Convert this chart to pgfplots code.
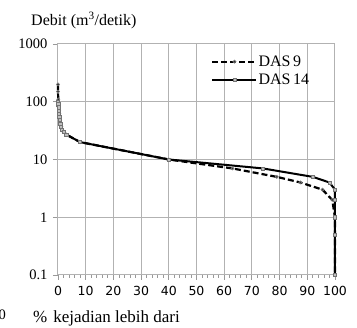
\documentclass[border=0pt]{standalone}
\usepackage{fontspec}
\setmainfont{Liberation Serif}
\newfontfamily\dejavu{DejaVu Sans}
\usepackage{pgfplots}
\pgfplotsset{compat=1.18}
\begin{document}
\begin{tikzpicture}[x=1pt,y=1pt]
\begin{axis}[
  at={(0,0)}, anchor=south west,
  scale only axis, width=277pt, height=231pt,
  xmin=0, xmax=100, ymode=log, ymin=0.1, ymax=1000,
  clip=false,
  xtick pos=bottom, ytick pos=left,
  xtick={0,10,20,30,40,50,60,70,80,90,100},
  xticklabels={0,10,20,30,40,50,60,70,80,90,100},
  minor x tick num=4,
  ytick={0.1,1,10,100,1000},
  yticklabels={0.1,1,10,100,1000},
  minor y tick style={draw=none},
  tick align=outside,
  x tick style={gray!80, line width=0.8pt},
  y tick style={gray!80, line width=0.8pt},
  major tick length=5pt, minor tick length=3pt,
  xmajorgrids, ymajorgrids,
  major grid style={gray!60, line width=1pt},
  axis line style={gray!60, line width=1pt},
  xticklabel style={font=\dejavu\fontsize{12.5}{13}\selectfont, yshift=-3pt},
  yticklabel style={font=\fontsize{14.5}{15}\selectfont, xshift=-2pt},
  legend style={at={(axis description cs:0.553,0.955)}, anchor=north west,
    draw=none, fill=none, inner sep=0pt, row sep=4pt,
    font=\fontsize{16}{17}\selectfont,
    nodes={inner sep=1pt}},
  legend cell align=left,
  legend image code/.code={\draw[mark repeat=2,mark phase=2,#1] plot coordinates {(0pt,0pt) (22pt,0pt) (44pt,0pt)};},
]
\addplot[black, line width=2.2pt, dash pattern=on 6pt off 3pt,
  mark=*, mark size=1.6pt, mark options={solid, fill=black!80, draw=gray, line width=0.6pt}]
coordinates {
(0,200)(0,150)(0.1,110)(0.2,90)(0.3,80)(0.4,70)(0.5,62)(0.6,55)(0.8,48)(1,42)(1.2,37)(1.5,33)(2,30)(3,27)(8,20)(40,10)(63,7)(79,5)(87.5,4)(95.5,3)(99,2)(100,1)(100,0.5)(100,0.1)
};
\addlegendentry{DAS\,9}
\addplot[black, line width=2pt,
  mark=square*, mark size=1.6pt, mark options={solid, fill=gray!50, draw=gray!90!black, line width=0.6pt}]
coordinates {
(0,100)(0.1,90)(0.2,80)(0.3,70)(0.4,62)(0.5,55)(0.6,48)(0.8,42)(1,37)(1.5,33)(2,30)(3,27)(8,20)(40,10)(74,7)(92,5)(98,4)(100,3)(100,2)(100,1)(100,0.5)(100,0.1)
};
\addlegendentry{DAS\,14}
\end{axis}
\node[anchor=base west, inner sep=0pt, font=\fontsize{16}{17}\selectfont] at (-27,249) {Debit (m\textsuperscript{3}/detik)};
\node[anchor=base west, inner sep=0pt, font=\fontsize{17}{18}\selectfont] at (-25,-48) {\%\hspace{6pt}kejadian lebih dari};
\node[anchor=east, inner sep=0pt, font=\fontsize{14.5}{15}\selectfont] at (-52,-40) {0};
\pgfresetboundingbox
\path[use as bounding box] (-58,-53) rectangle (299,275);
\end{tikzpicture}
\end{document}
